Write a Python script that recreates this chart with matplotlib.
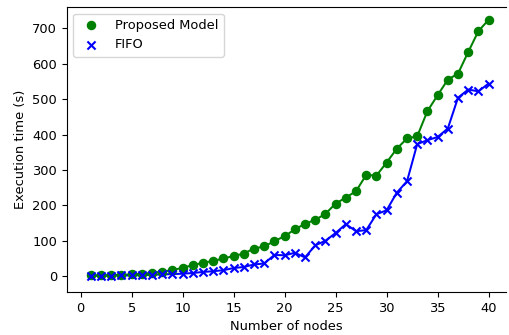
import numpy as np
import matplotlib.pyplot as plt

nodes = np.arange(1, 41)
proposed = [2, 3, 3, 4, 5, 7, 9, 13, 17, 24, 31, 38, 43, 50, 57, 64, 78, 84, 99, 113,
            132, 148, 159, 176, 205, 222, 240, 286, 284, 321, 360, 389, 395, 466, 511, 555, 572, 633, 692, 724]
fifo = [1, 1, 1, 2, 2, 3, 4, 5, 6, 7, 9, 12, 14, 17, 23, 26, 33, 36, 60, 59,
        66, 53, 87, 100, 122, 147, 127, 130, 175, 186, 236, 268, 373, 384, 393, 417, 504, 527, 522, 544]

plt.rcParams['font.size'] = 9.4

fig = plt.figure(figsize=(5.09, 3.35), dpi=100)
ax = fig.add_axes([0.131, 0.128, 0.863, 0.851])

ax.plot(nodes, proposed, color='green', lw=1.45)
ax.scatter(nodes, proposed, color='green', marker='o', s=34, zorder=3, label='Proposed Model')
ax.plot(nodes, fifo, color='blue', lw=1.45)
ax.scatter(nodes, fifo, color='blue', marker='x', s=34, zorder=3, label='FIFO')

ax.set_xlim(-1.37, 41.7)
ax.set_ylim(-45, 760)
ax.set_xticks(range(0, 41, 5))
ax.set_yticks(range(0, 701, 100))
ax.spines['right'].set_visible(False)
ax.set_xlabel('Number of nodes')
ax.set_ylabel('Execution time (s)')
ax.legend(loc='upper left')

fig.savefig('out.png', dpi=100)
